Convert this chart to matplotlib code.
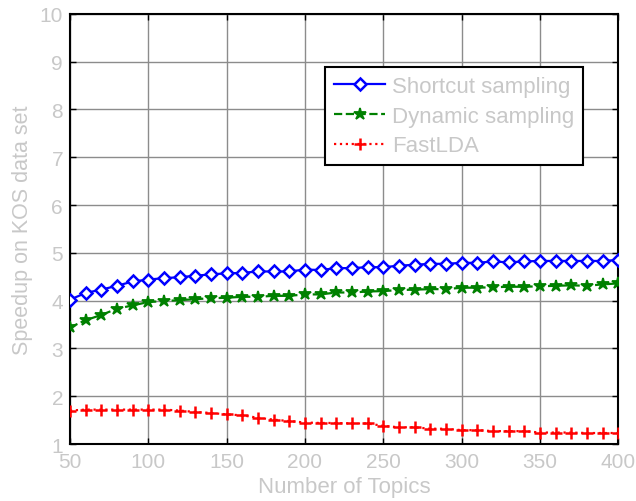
import numpy as np
import matplotlib
matplotlib.use("Agg")
import matplotlib.pyplot as plt

plt.rcParams['font.family'] = ['Liberation Sans', 'DejaVu Sans']

# Number of topics (x axis)
topics = list(range(50, 401, 10))

# Speedup values
shortcut = [4.02, 4.16, 4.23, 4.31, 4.40, 4.44, 4.47, 4.49, 4.52, 4.55,
            4.57, 4.58, 4.61, 4.61, 4.61, 4.65, 4.64, 4.68, 4.68, 4.70,
            4.70, 4.73, 4.75, 4.77, 4.77, 4.79, 4.79, 4.82, 4.80, 4.82,
            4.83, 4.83, 4.83, 4.83, 4.83, 4.85]
dynamic = [3.44, 3.59, 3.70, 3.83, 3.90, 3.97, 3.99, 4.01, 4.03, 4.05,
           4.06, 4.08, 4.08, 4.10, 4.10, 4.13, 4.13, 4.17, 4.17, 4.19,
           4.20, 4.22, 4.23, 4.24, 4.24, 4.27, 4.27, 4.28, 4.29, 4.29,
           4.30, 4.31, 4.32, 4.31, 4.34, 4.36]
fastlda = [1.70, 1.72, 1.72, 1.72, 1.72, 1.72, 1.72, 1.70, 1.67, 1.65,
           1.62, 1.60, 1.55, 1.51, 1.48, 1.45, 1.44, 1.44, 1.43, 1.43,
           1.38, 1.35, 1.35, 1.32, 1.32, 1.29, 1.29, 1.27, 1.27, 1.27,
           1.24, 1.24, 1.24, 1.23, 1.23, 1.23]

text_gray = '#c8c8c8'

fig = plt.figure(figsize=(6.36, 5.02), dpi=100)
ax = fig.add_axes([0.110, 0.1135, 0.862, 0.857])

ax.plot(topics, shortcut, color=(0, 0, 1), linestyle='-', linewidth=1.6,
        marker='D', markersize=6.5, markerfacecolor='white',
        markeredgewidth=1.8, label="Shortcut sampling", zorder=4)
ax.plot(topics, dynamic, color=(0, 0.5, 0), linestyle='--', linewidth=1.6,
        marker='*', markersize=9, markeredgewidth=1.3,
        label="Dynamic sampling", zorder=3)
ax.plot(topics, fastlda, color=(1, 0, 0), linestyle=':', linewidth=1.6,
        marker='+', markersize=9, markeredgewidth=1.8,
        label="FastLDA", zorder=3)

ax.set_xlim(50, 400)
ax.set_ylim(1, 10)
ax.set_xticks(range(50, 401, 50))
ax.set_yticks(range(1, 11))

ax.grid(True, color='#8c8c8c', linewidth=1, linestyle='-')
ax.set_axisbelow(True)

for s in ax.spines.values():
    s.set_linewidth(1.5)
    s.set_color('black')

ax.tick_params(direction='in', length=4, width=1, top=True, right=True,
               labelsize=15, labelcolor=text_gray)
ax.tick_params(axis='x', pad=6)
ax.tick_params(axis='y', pad=5)

ax.set_xlabel("Number of Topics", fontsize=16, color=text_gray, labelpad=3)
ax.set_ylabel("Speedup on KOS data set", fontsize=15.5, color=text_gray, labelpad=5)

leg = ax.legend(loc='upper right', bbox_to_anchor=(0.936, 0.877),
                fontsize=16, frameon=True, fancybox=False, framealpha=1,
                edgecolor='black', handlelength=2.3, handletextpad=0.3,
                labelspacing=0.4, borderpad=0.4, borderaxespad=0)
leg.get_frame().set_linewidth(1.5)
for t in leg.get_texts():
    t.set_color(text_gray)

fig.savefig("out.png", dpi=100)
